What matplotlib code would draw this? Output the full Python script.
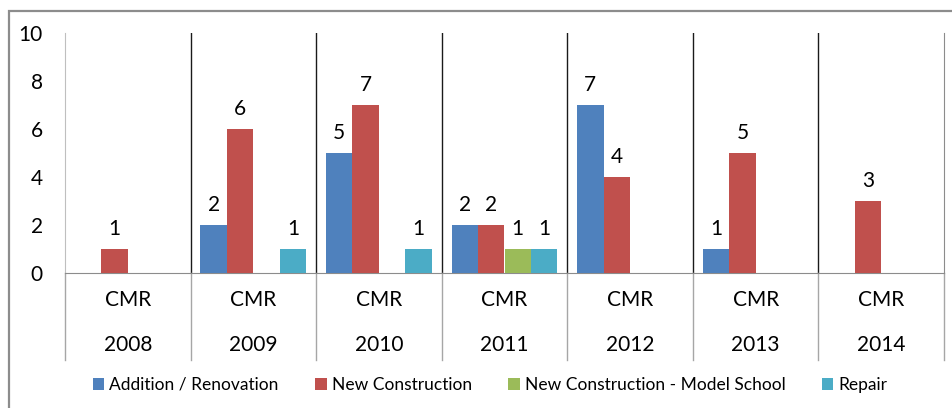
import matplotlib
matplotlib.use('Agg')
from matplotlib import pyplot as plt
from matplotlib.patches import Rectangle
import numpy as np

plt.rcParams['font.family'] = ['Lato', 'DejaVu Sans']

years = ['2008', '2009', '2010', '2011', '2012', '2013', '2014']
sub_label = 'CMR'
series_names = ['Addition / Renovation', 'New Construction',
                'New Construction - Model School', 'Repair']
nan = np.nan
addition = [nan, 2, 5, 2, 7, 1, nan]
new_constr = [1, 6, 7, 2, 4, 5, 3]
model_school = [nan, nan, nan, 1, nan, nan, nan]
repair = [nan, 1, 1, 1, nan, nan, nan]
colors = ['#4F81BD', '#C0504D', '#9BBB59', '#4BACC6']

fig = plt.figure(figsize=(9.52, 4.08), dpi=100)
ax = fig.add_axes([65/952, 1-273/408, (944-65)/952, 240/408])

# outer chart border (partly cropped in the original)
fig.patches.append(Rectangle((9/952, -0.1), 1.2, 1.1-11/408, transform=fig.transFigure,
                             fill=False, edgecolor='#8C8C8C', lw=1.6))

x = np.arange(len(years))
w = 0.211
all_series = [addition, new_constr, model_school, repair]
for i, (vals, name, c) in enumerate(zip(all_series, series_names, colors)):
    pos = x + (i-1.5)*w
    bars = ax.bar(pos, vals, width=w, color=c, label=name, zorder=3)
    for p, v in zip(pos, vals):
        if not np.isnan(v):
            ax.text(p, v+0.4, '{:d}'.format(int(v)), ha='center', va='bottom', fontsize=15)

ax.set_xlim(-0.5, len(years)-0.5)
ax.set_ylim(0, 10)
ax.set_yticks(np.arange(0, 11, 2))
ax.tick_params(axis='y', length=0, pad=16, labelsize=15)
ax.set_xticks([])
ax.spines['top'].set_visible(False)
ax.spines['left'].set_color('#BFBFBF')
ax.spines['right'].set_color('#8C8C8C')
ax.spines['bottom'].set_color('#8C8C8C')

# group separators: dark inside the plot, grey through the category labels
trans = ax.get_xaxis_transform()
for b in np.arange(-0.5, len(years), 1.0):
    if 0 < b < len(years)-1:
        ax.plot([b, b], [0, 1], color='#1A1A1A', lw=1.0, transform=trans, zorder=2)
    ax.plot([b, b], [0, -0.3625], color='#A6A6A6', lw=1.0, transform=trans, clip_on=False)

for xi, yr in zip(x, years):
    ax.text(xi, -0.1125, sub_label, ha='center', va='center', fontsize=15, transform=trans)
    ax.text(xi, -0.30, yr, ha='center', va='center', fontsize=15, transform=trans)

fig.legend(loc='center', bbox_to_anchor=(0.515, 1-385/408), ncol=4, frameon=False,
           fontsize=12.5, handlelength=0.65, handleheight=0.65, handletextpad=0.3,
           columnspacing=2.1)

fig.savefig('out.png', dpi=100)
